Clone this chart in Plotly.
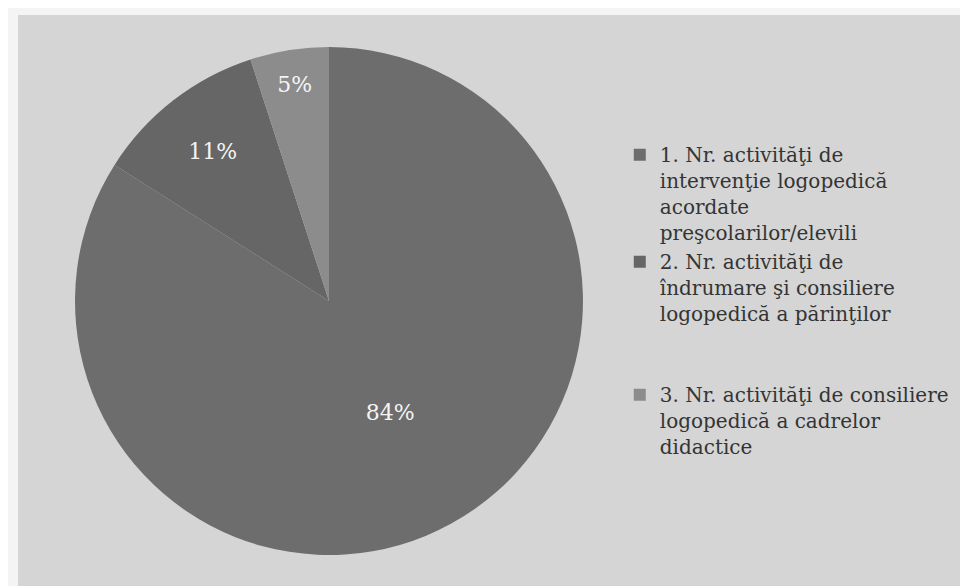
import plotly.graph_objects as go

labels = [
    "1. Nr. activităţi de<br>intervenţie logopedică<br>acordate<br>preşcolarilor/elevili",
    "2. Nr. activităţi de<br>îndrumare şi consiliere<br>logopedică a părinţilor<br> <br> ",
    "3. Nr. activităţi de consiliere<br>logopedică a cadrelor<br>didactice",
]
values = [84, 11, 5]
colors = ["#6d6d6d", "#666666", "#8c8c8c"]

fig = go.Figure(
    go.Pie(
        labels=labels,
        values=values,
        sort=False,
        direction="clockwise",
        rotation=0,
        marker=dict(colors=colors, line=dict(width=0)),
        textinfo="percent",
        texttemplate="%{percent:.0%}",
        textposition="inside",
        insidetextorientation="horizontal",
        textfont=dict(family="DejaVu Serif", size=22, color="#f4f4f4"),
        domain=dict(x=[0.0692, 0.594], y=[0.0666, 0.9334]),
        hoverinfo="label+percent",
    )
)

fig.update_layout(
    width=968,
    height=586,
    paper_bgcolor="#f4f4f4",
    margin=dict(l=0, r=0, t=0, b=0),
    showlegend=True,
    legend=dict(
        x=0.632,
        y=0.783,
        xanchor="left",
        yanchor="top",
        valign="top",
        font=dict(family="DejaVu Serif", size=20, color="#343434"),
        itemwidth=30,
        bgcolor="rgba(0,0,0,0)",
    ),
    shapes=[
        dict(type="rect", xref="paper", yref="paper", x0=0.0103, x1=1, y0=0, y1=0.988,
             fillcolor="#d5d5d5", line=dict(width=0), layer="below"),
    ],
)

fig.write_html("out.html")
